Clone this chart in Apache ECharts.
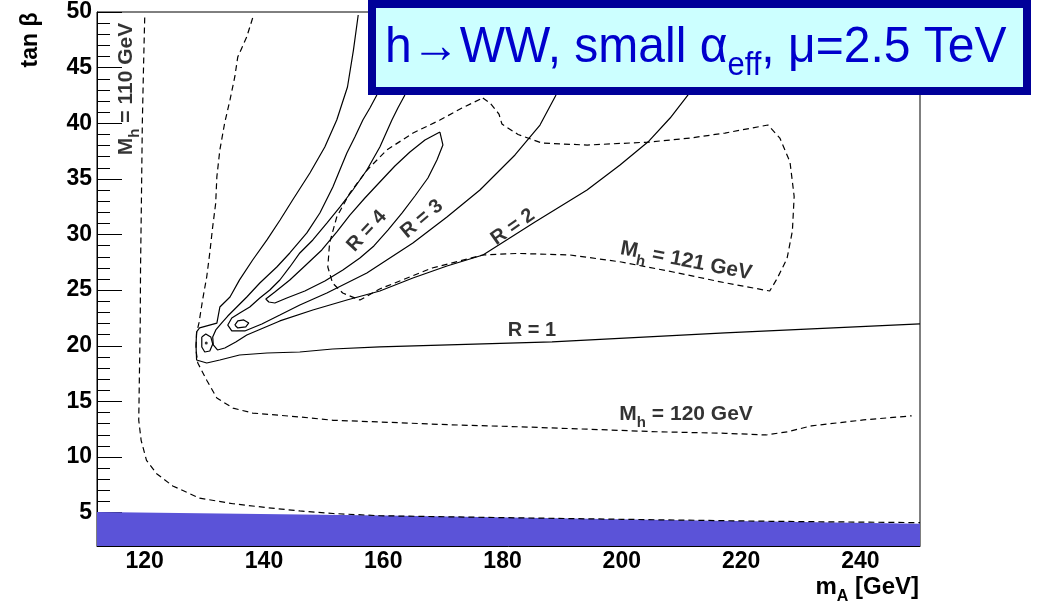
<!DOCTYPE html>
<html><head><meta charset="utf-8">
<script src="https://cdn.jsdelivr.net/npm/echarts@6/dist/echarts.min.js"></script>
<style>html,body{margin:0;padding:0;background:#fff}#c{width:1041px;height:601px}</style>
</head><body><div id="c"></div>
<script>
// ---- axis ticks ----
const xTicks = [120, 140, 160, 180, 200, 220, 240];
const yMajor = [5, 10, 15, 20, 25, 30, 35, 40, 45, 50];
const yMinor = [3,4,6,7,8,9,11,12,13,14,16,17,18,19,21,22,23,24,26,27,28,29,31,32,33,34,36,37,38,39,41,42,43,44,46,47,48,49];

// ---- excluded (blue) band: upper edge [mA, tanb] ----
const band = [[112,5.05],[160,4.75],[205,4.35],[250,4.0]];

// ---- Mh contours (dashed) ----
const mh110 = [[120.0,49.5],[119.8,45],[119.6,40],[119.45,33.1],[119.3,27],[119.25,22],[119.1,17],[119.05,15.1],[119.0,13.3],[119.4,11.5],[120.3,9.7],[122.0,8.5],[124.7,7.4],[129.2,6.3],[134.8,5.8],[140.5,5.45],[146.0,5.15],[151.6,4.92],[159.4,4.72],[180,4.55],[200,4.4],[225,4.22],[250,4.1]];
const mh120 = [[138.1,49.46],[137.1,47.75],[135.6,45.95],[135.1,44.16],[134.3,42.1],[133.4,40.0],[132.6,37.6],[132.1,35.2],[131.9,32.8],[131.4,30.7],[130.9,28.3],[130.4,26.2],[129.7,24.1],[129.1,22.05],[128.7,21.15],[128.6,19.6],[128.9,18.45],[130.4,16.9],[132.1,15.3],[134.8,14.4],[138.1,13.95],[146.0,13.6],[151.6,13.3],[159.4,13.15],[171.0,12.9],[182.6,12.72],[194.2,12.5],[205.8,12.27],[217.4,12.13],[224.2,11.98],[227.8,12.27],[231.8,12.8],[240.5,13.33],[248.6,13.7]];
const mh121 = [[176.7,42.27],[177.9,41.82],[179.4,40.83],[179.9,39.93],[182.6,38.99],[186.6,38.22],[194.2,38.04],[204.6,38.31],[211.5,38.67],[217.3,39.12],[224.5,39.84],[226.5,38.67],[228.2,36.52],[228.9,33.42],[228.6,30.31],[227.7,27.83],[226.0,26.0],[224.8,24.92],[217.3,25.66],[208.6,26.63],[199.9,27.53],[191.3,28.16],[182.6,28.3],[176.7,28.16],[168.2,26.99],[159.4,25.1],[156.1,24.11],[153.2,24.74],[151.5,25.64],[150.7,27.08],[151.0,29.24],[152.2,31.57],[154.4,33.73],[157.3,35.8],[160.6,37.6],[165.0,39.12],[169.5,40.29],[173.2,41.37],[176.7,42.27]];

// ---- R contours (solid) ----
const r1 = [[155.8,49.73],[155.0,46.58],[154.0,43.26],[152.2,40.29],[150.2,37.87],[147.7,35.53],[144.8,33.1],[142.7,31.3],[140.5,29.51],[138.1,27.71],[135.9,25.92],[134.3,24.38],[132.6,23.48],[132.1,22.04],[129.2,21.6],[128.7,21.24],[128.6,20.07],[128.7,18.72],[130.4,18.45],[132.6,18.72],[135.9,19.17],[140.5,19.35],[146.0,19.44],[151.5,19.71],[159.4,19.89],[188.3,20.34],[217.3,21.15],[250,21.96]];
const r2 = [[158.93,42.54],[157.76,41.37],[156.58,40.29],[155.24,38.76],[153.9,37.33],[152.72,35.8],[151.55,34.27],[149.37,31.93],[147.19,30.14],[144.33,28.34],[142.15,27.08],[139.3,25.64],[137.12,24.38],[135.44,23.48],[133.93,22.67],[132.92,22.05],[131.92,21.42],[131.4,20.79],[131.5,20.07],[132.2,19.62],[133.43,19.8],[135.27,20.34],[137.12,20.97],[142.66,22.23],[148.19,23.21],[153.9,24.11],[159.43,24.92],[164.97,26.09],[170.68,27.17],[176.72,28.16],[185.44,31.12],[194.17,34.0],[199.7,36.25],[204.57,38.41],[208.1,40.47],[211.11,42.54]];
const r3 = [[163.63,42.54],[162.45,41.37],[161.45,40.29],[159.43,37.87],[157.25,35.8],[154.9,34.0],[152.72,32.47],[150.54,31.03],[148.19,29.51],[146.01,28.34],[144.33,27.08],[142.66,25.91],[140.98,25.01],[139.3,24.29],[137.62,23.48],[135.94,22.95],[134.6,22.5],[133.93,21.86],[134.6,21.33],[136.78,21.33],[139.64,21.96],[142.66,22.76],[146.01,23.66],[150.54,24.74],[157.25,26.54],[164.97,29.24],[170.68,31.57],[176.21,34.0],[182.09,37.15],[186.28,39.84],[188.97,42.54]];
const r4 = [[169.5,39.21],[170.0,38.05],[169.0,36.7],[167.49,35.08],[165.31,33.46],[163.13,31.93],[160.78,30.4],[158.43,28.97],[156.08,27.89],[153.23,26.81],[150.21,25.82],[146.85,24.92],[143.83,24.29],[141.82,23.84],[140.81,23.93],[140.31,24.2],[141.82,24.83],[144.33,25.91],[146.85,27.17],[149.7,28.61],[152.22,30.23],[154.4,31.75],[156.92,33.28],[159.43,34.72],[161.95,36.16],[164.47,37.42],[166.99,38.49],[169.5,39.21]];
const islandA = [[135.1,21.86],[135.61,22.23],[136.61,22.32],[137.45,22.05],[136.95,21.69],[135.61,21.6],[135.1,21.86]];
const islandB = [[129.57,20.79],[130.24,21.06],[131.08,20.79],[131.41,20.16],[130.91,19.53],[130.07,19.44],[129.57,19.89],[129.57,20.79]];
const peak = [[130.32,20.25]];

// ---- contour labels: [mA, tanb, text, angle] ----
const labels = [
  [157.25, 30.31, 'R = 4', 47],
  [166.48, 31.39, 'R = 3', 40],
  [181.75, 30.67, 'R = 2', 35],
  [184.94, 21.33, 'R = 1', 0],
  [210.78, 27.62, '{m|M}{s|h}{m| = 121 GeV}', -11],
  [210.78, 13.86, '{m|M}{s|h}{m| = 120 GeV}', 0],
  [116.82, 43.08, '{m|M}{s|h}{m| = 110 GeV}', 90]
];

const FONT = 'Liberation Sans, Arial, Helvetica, sans-serif';
function curve(data, dashed) {
  return { type: 'line', data: data, symbol: 'none', silent: true, z: 3,
    lineStyle: { color: '#000', width: 1.2, type: dashed ? [6, 4] : 'solid' } };
}
const series = [
  { type: 'line', data: band, symbol: 'none', silent: true, z: 2,
    lineStyle: { width: 0 }, areaStyle: { color: '#5b53d8', opacity: 1, origin: 'start' } },
  curve(mh110, true), curve(mh120, true), curve(mh121, true),
  curve(r1, false), curve(r2, false), curve(r3, false), curve(r4, false),
  curve(islandA, false), curve(islandB, false),
  { type: 'scatter', data: peak, symbol: 'circle', symbolSize: 3, itemStyle: { color: '#000' }, silent: true, z: 4 },
  { type: 'scatter', symbolSize: 0, silent: true, z: 5,
    data: labels.map(l => ({ value: [l[0], l[1]], label: { formatter: l[2], rotate: l[3] } })),
    label: { show: true, position: 'inside', color: '#000', fontFamily: FONT, fontWeight: 'bold', fontSize: 20,
      rich: { m: { fontFamily: FONT, fontWeight: 'bold', fontSize: 21, color: '#000' },
              s: { fontFamily: FONT, fontWeight: 'bold', fontSize: 15, color: '#000', padding: [18, 0, 0, 0] } } } }
];

const chart = echarts.init(document.getElementById('c'), null, { renderer: 'canvas' });
chart.setOption({
  animation: false,
  backgroundColor: '#fff',
  grid: { left: 97, right: 121, top: 12, bottom: 55, show: true, borderColor: '#000', borderWidth: 1, backgroundColor: 'transparent' },
  xAxis: { type: 'value', min: 112, max: 250,
    axisLine: { show: true, onZero: false, lineStyle: { color: '#000', width: 1 } },
    axisTick: { show: false }, splitLine: { show: false },
    axisLabel: { customValues: xTicks, color: '#000', fontFamily: FONT, fontWeight: 'bold', fontSize: 23, margin: 4 } },
  yAxis: [
    { type: 'value', min: 2, max: 50,
      axisLine: { show: true, onZero: false, lineStyle: { color: '#000', width: 1 } },
      axisTick: { show: true, inside: true, length: 25, customValues: yMajor, lineStyle: { color: '#000', width: 1 } },
      splitLine: { show: false },
      axisLabel: { customValues: yMajor, color: '#000', fontFamily: FONT, fontWeight: 'bold', fontSize: 23, margin: 5 } },
    { type: 'value', min: 2, max: 50, position: 'left', offset: 0,
      axisLine: { show: false },
      axisTick: { show: true, inside: true, length: 13, customValues: yMinor, lineStyle: { color: '#000', width: 1 } },
      splitLine: { show: false }, axisLabel: { show: false } }
  ],
  series: series,
  graphic: [
    { type: 'text', x: 31, y: 40, rotation: Math.PI / 2, z: 10,
      style: { text: 'tan β', fill: '#000', font: 'bold 23px ' + FONT, align: 'center', verticalAlign: 'middle' } },
    { type: 'text', x: 919, y: 587, z: 10,
      style: { text: '{m|m}{s|A}{m| [GeV]}', align: 'right', verticalAlign: 'middle',
        rich: { m: { fontFamily: FONT, fontWeight: 'bold', fontSize: 24, fill: '#000' },
                s: { fontFamily: FONT, fontWeight: 'bold', fontSize: 16, fill: '#000', padding: [20, 0, 0, 0] } } } },
    { type: 'rect', z: 20, shape: { x: 372, y: 4, width: 655, height: 87 },
      style: { fill: '#ccffff', stroke: '#000099', lineWidth: 8 } },
    { type: 'text', x: 385, y: 48, z: 21, scaleY: 1.06,
      style: { text: '{m|h→WW, small α}{s|eff}{m|, μ=2.5 TeV}', align: 'left', verticalAlign: 'middle',
        rich: { m: { fontFamily: FONT, fontSize: 48, fill: '#0000cc' },
                s: { fontFamily: FONT, fontSize: 31, fill: '#0000cc', padding: [34, 0, 0, 0] } } } }
  ]
});
</script></body></html>
